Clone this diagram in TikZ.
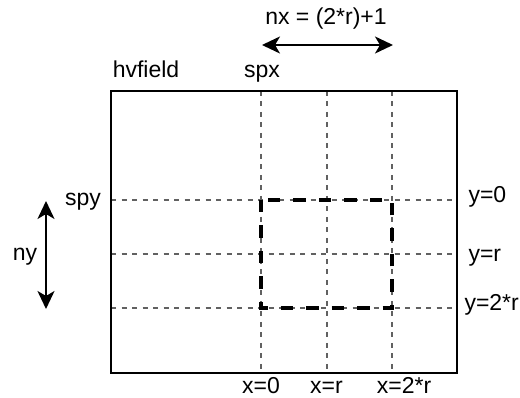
\documentclass[tikz,border=0pt]{standalone}
\usepackage{fontspec}
\setmainfont{Liberation Sans}
\usetikzlibrary{arrows.meta}

\begin{document}
\begin{tikzpicture}[x=1pt,y=-1pt,line width=1pt,>={Stealth[length=18pt,width=17pt,inset=5pt]},
  lbl/.style={font=\fontsize{23}{27}\selectfont,inner sep=0pt},
  gridline/.style={black!62,line width=1.3pt,dash pattern=on 5pt off 5.5pt},
  window/.style={line width=3.2pt,dash pattern=on 12.5pt off 13pt},
  dim/.style={<->,line width=2.2pt}]
\useasboundingbox (0,0) rectangle (520,398);
% ---------- hvfield frame and grid lines ----------
\coordinate (fnw) at (111,91);
\coordinate (fse) at (457,373);
\foreach \n/\xx in {0/261,1/327,2/392}{
  \coordinate (vt\n) at (\xx,91);
  \coordinate (vb\n) at (\xx,373);
  \draw[gridline] (vt\n) -- (vb\n);}
\foreach \n/\yy in {0/200,1/254,2/308}{
  \coordinate (hl\n) at (111,\yy);
  \coordinate (hr\n) at (457,\yy);
  \draw[gridline] (hl\n) -- (hr\n);}
\draw[line width=2pt] (fnw) rectangle (fse);
% thick dashed window, spx/spy corner
\coordinate (wnw) at (vt0 |- hl0);
\coordinate (wse) at (vt2 |- hl2);
\draw[window] (wnw) rectangle (wse);
% ---------- labels ----------
\node[lbl,anchor=base] (hvfield) at (146,78) {hvfield};
\node[lbl,anchor=base] (spx) at (262,78) {spx};
\node[lbl,anchor=base] (spy) at (83,206) {spy};
\node[lbl,anchor=base] (ny) at (25,261) {ny};
\node[lbl,anchor=base] (nx) at (326,25) {nx = (2*r)+1};
\node[lbl,anchor=base west] (ylab0) at (468,203) {y=0};
\node[lbl,anchor=base west] (ylab1) at (468,262) {y=r};
\node[lbl,anchor=base west] (ylab2) at (464,311) {y=2*r};
\node[lbl,anchor=base] (xlab0) at (261,393) {x=0};
\node[lbl,anchor=base] (xlab1) at (326.5,393) {x=r};
\node[lbl,anchor=base] (xlab2) at (404,393) {x=2*r};
% ---------- size arrows ----------
\coordinate (nxl) at (262,45);
\coordinate (nxr) at (393,45);
\draw[dim] (nxl) -- (nxr);
\coordinate (nyt) at (46,201);
\coordinate (nyb) at (46,309);
\draw[dim] (nyt) -- (nyb);
\end{tikzpicture}
\end{document}
